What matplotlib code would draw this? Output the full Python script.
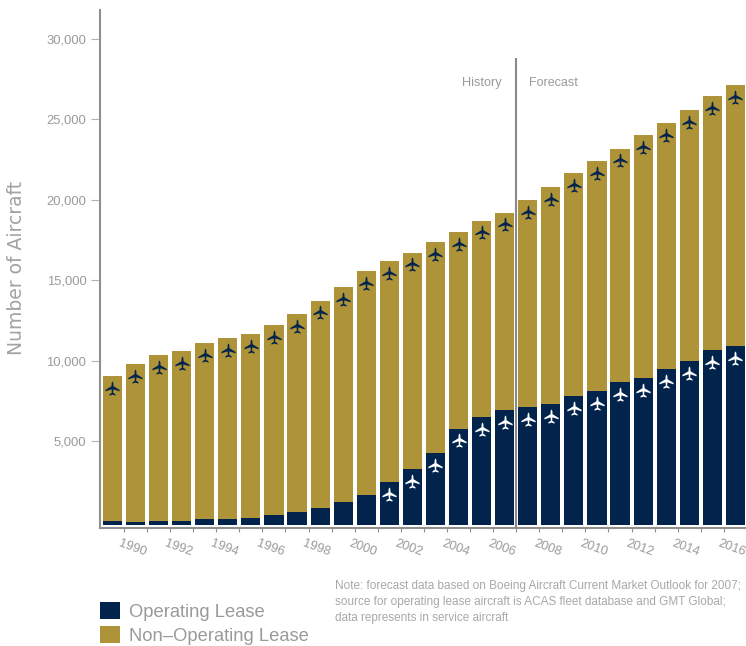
import matplotlib
matplotlib.use("Agg")
import matplotlib.pyplot as plt
from matplotlib.path import Path
import numpy as np

years = np.arange(1989, 2017)
total = np.array([9040, 9770, 10320, 10570, 11070, 11380, 11630, 12190, 12870, 13730,
                  14550, 15540, 16170, 16710, 17350, 17970, 18700, 19200, 19960, 20770,
                  21640, 22390, 23180, 24000, 24750, 25570, 26430, 27140])
operating = np.array([0, -60, 0, 0, 125, 125, 190, 370, 560, 810,
                      1180, 1620, 2430, 3230, 4230, 5770, 6470, 6900, 7090, 7270,
                      7770, 8080, 8650, 8900, 9450, 9950, 10640, 10910])
y_ticks = [5000, 10000, 15000, 20000, 25000, 30000]
label_years = np.arange(1990, 2017, 2)

navy = "#02244c"
gold = "#ae9338"
grey = "#9a9a9a"

plt.rcParams["font.family"] = ["Liberation Sans", "DejaVu Sans"]

# little plane marker, nose up
plane = Path([(0, 1), (0.12, 0.78), (0.14, 0.32), (1, -0.2), (1, -0.4), (0.13, -0.12),
              (0.09, -0.6), (0.42, -0.8), (0.42, -1), (0, -0.86),
              (-0.42, -1), (-0.42, -0.8), (-0.09, -0.6), (-0.13, -0.12),
              (-1, -0.4), (-1, -0.2), (-0.14, 0.32), (-0.12, 0.78), (0, 1)], closed=True)

fig = plt.figure(figsize=(7.46, 6.46), dpi=100)
ax = fig.add_axes([99.5 / 746, 1 - 527.5 / 646, (746 - 99.5) / 746, (527.5 - 10) / 646])

base = -230  # bars start a bit below the zero of the tick scale
bar_op = ax.bar(years, operating - base, bottom=base, width=0.83, color=navy, label="Operating Lease")
bar_non = ax.bar(years, total - operating, bottom=operating, width=0.83, color=gold,
                 label="Non\u2013Operating Lease")

ax.scatter(years, total - 720, marker=plane, s=105, color=navy, linewidths=0, zorder=3)
late = years >= 2001
ax.scatter(years[late], operating[late] - 720, marker=plane, s=105, color="white", linewidths=0, zorder=3)

ax.set_xlim(1988.44, 2016.46)
ax.set_ylim(-380, 31800)

ax.vlines(2006.5, -380, 28820, color="#8a8a8a", linewidth=1.5, zorder=4)
ax.text(2005.85, 27260, "History", color=grey, fontsize=9.2, ha="right", va="center")
ax.text(2007.07, 27260, "Forecast", color=grey, fontsize=9, ha="left", va="center")

for s in ["top", "right"]:
    ax.spines[s].set_visible(False)
for s in ["left", "bottom"]:
    ax.spines[s].set_color("#8f8f8f")
    ax.spines[s].set_linewidth(1.5)

ax.set_yticks(y_ticks)
ax.set_yticklabels([f"{v:,}" for v in y_ticks], color=grey, fontsize=9.4)
ax.tick_params(axis="y", length=6.5, width=0.8, color="#b5b5b5", pad=3)

ax.set_xticks(years[:-1] + 0.5)
ax.set_xticklabels([])
ax.tick_params(axis="x", length=3, width=0.8, color="#8f8f8f")
for yr in label_years:
    ax.annotate(str(yr), (yr - 0.14, 0), xycoords=("data", "axes fraction"), xytext=(0, -14.5),
                textcoords="offset points", color=grey, fontsize=9.2, rotation=-20,
                ha="center", va="center", rotation_mode="anchor", annotation_clip=False)

fig.text(17 / 746, 1 - 267.5 / 646, "Number of Aircraft", color="#a2a2a2", fontsize=13.5, rotation=90,
         ha="center", va="center", family="DejaVu Sans")

leg = fig.legend(handles=[bar_op, bar_non], loc="lower left", bbox_to_anchor=(100 / 746, 1 / 646),
                 frameon=False, fontsize=13.2, borderpad=0, borderaxespad=0, handlelength=1.09,
                 handleheight=1.07, handletextpad=0.48, labelspacing=0.3, labelcolor=grey)

fig.text(335 / 746, 1 - 586 / 646, "Note: forecast data based on Boeing Aircraft Current Market Outlook for 2007;",
         color="#a8a8a8", fontsize=8.5, va="center")
fig.text(335 / 746, 1 - 602 / 646, "source for operating lease aircraft is ACAS fleet database and GMT Global;",
         color="#a8a8a8", fontsize=8.5, va="center")
fig.text(335 / 746, 1 - 618 / 646, "data represents in service aircraft",
         color="#a8a8a8", fontsize=8.5, va="center")

fig.savefig("out.png", dpi=100)
